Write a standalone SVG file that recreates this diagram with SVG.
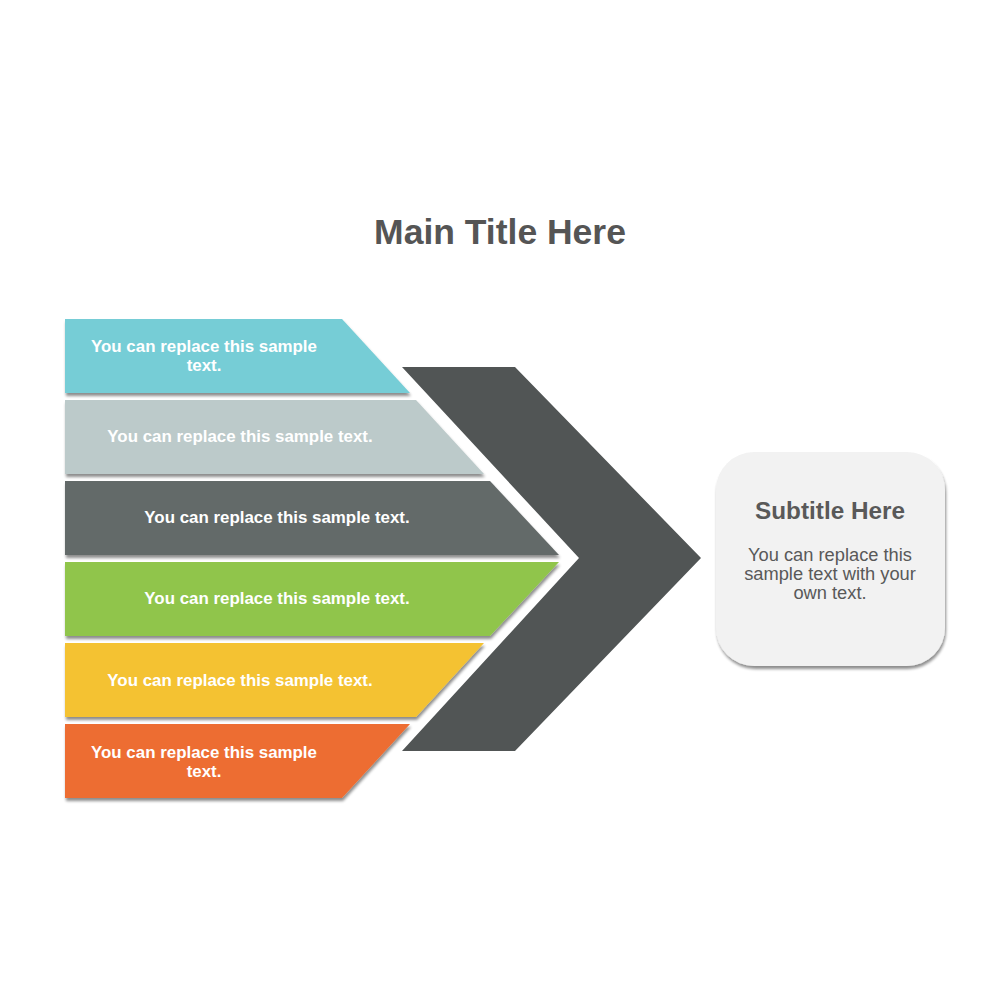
<svg xmlns="http://www.w3.org/2000/svg" width="1000" height="1000" viewBox="0 0 1000 1000">
<defs>
<style>
.band text{font-family:"Liberation Sans",Arial,sans-serif;font-weight:bold;font-size:16.9px;fill:#fff;text-anchor:middle}
.title{font-family:"Liberation Sans",Arial,sans-serif;font-weight:bold;font-size:35.5px;fill:#555;text-anchor:middle}
.sub{font-family:"Liberation Sans",Arial,sans-serif;font-weight:bold;font-size:24.3px;fill:#595959;text-anchor:middle}
.body{font-family:"Liberation Sans",Arial,sans-serif;font-size:18.3px;fill:#595959;text-anchor:middle}
</style>
<filter id="sh" x="-10%" y="-10%" width="120%" height="130%">
<feGaussianBlur in="SourceAlpha" stdDeviation="1.5"/>
<feOffset dx="1" dy="3" result="b"/>
<feComponentTransfer><feFuncA type="linear" slope="0.45"/></feComponentTransfer>
<feMerge><feMergeNode/><feMergeNode in="SourceGraphic"/></feMerge>
</filter>
</defs>
<rect width="1000" height="1000" fill="#fff"/>
<text class="title" x="500" y="244">Main Title Here</text>
<g id="chevron">
<polygon points="402,367 515,367 701,558 515,751 402,751 579,558" fill="#515555"/>
</g>
<g id="band1" class="band">
<polygon points="65,319 342,319 410,393 65,393" fill="#76CDD6" filter="url(#sh)"/>
<text x="204" y="352">You can replace this sample</text>
<text x="204" y="371">text.</text>
</g>
<g id="band2" class="band">
<polygon points="65,400 416,400 484,474 65,474" fill="#BCCACA" filter="url(#sh)"/>
<text x="240" y="442">You can replace this sample text.</text>
</g>
<g id="band3" class="band">
<polygon points="65,481 490,481 559,555 65,555" fill="#646A69" filter="url(#sh)"/>
<text x="277" y="523">You can replace this sample text.</text>
</g>
<g id="band4" class="band">
<polygon points="65,562 559,562 490,636 65,636" fill="#90C54B" filter="url(#sh)"/>
<text x="277" y="604">You can replace this sample text.</text>
</g>
<g id="band5" class="band">
<polygon points="65,643 484,643 416,717 65,717" fill="#F4C232" filter="url(#sh)"/>
<text x="240" y="686">You can replace this sample text.</text>
</g>
<g id="band6" class="band">
<polygon points="65,724 410,724 342,798 65,798" fill="#ED6D31" filter="url(#sh)"/>
<text x="204" y="758">You can replace this sample</text>
<text x="204" y="777">text.</text>
</g>
<g id="subtitle">
<rect x="716" y="452" width="229" height="214" rx="38" fill="#F2F2F2" filter="url(#sh)"/>
<text class="sub" x="830" y="519">Subtitle Here</text>
<text class="body" x="830" y="561">You can replace this</text>
<text class="body" x="830" y="580">sample text with your</text>
<text class="body" x="830" y="599">own text.</text>
</g>
<g id="connectors"/>
</svg>
